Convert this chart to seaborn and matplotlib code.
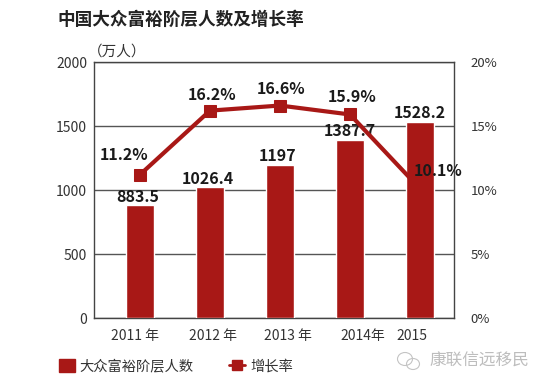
import matplotlib
matplotlib.use('Agg')
import matplotlib.pyplot as plt
from matplotlib.lines import Line2D
from matplotlib.patches import Ellipse, Patch
from matplotlib.transforms import ScaledTranslation
import pandas as pd
import seaborn as sns

years = ['2011 年', '2012 年', '2013 年', '2014年', '2015']
people = [883.5, 1026.4, 1197, 1387.7, 1528.2]
growth = [11.2, 16.2, 16.6, 15.9, 10.1]
people_labels = ['883.5', '1026.4', '1197', '1387.7', '1528.2']
growth_labels = ['11.2%', '16.2%', '16.6%', '15.9%', '10.1%']
left_ticks = [0, 500, 1000, 1500, 2000]
right_ticks = [0, 5, 10, 15, 20]

RED = '#a81816'
W, H = 551, 383

sns.set_theme(style='white')
plt.rcParams['font.family'] = ['Noto Sans CJK SC', 'DejaVu Sans']

df = pd.DataFrame({'year': years, 'people': people, 'growth': growth})

fig = plt.figure(figsize=(W / 100, H / 100), dpi=100, facecolor='white')
ax = fig.add_axes([94 / W, 1 - 318 / H, 360 / W, 256 / H])

sns.barplot(data=df, x='year', y='people', color=RED, saturation=1, width=0.39, ax=ax, zorder=3)
ax.set_xlim(-0.657, 4.486)
ax.set_ylim(0, 2000)
ax.set_yticks(left_ticks)
ax.set_xlabel('')
ax.set_ylabel('')
ax.yaxis.grid(True, color='#555555', lw=1)
ax.set_axisbelow(True)
ax.tick_params(axis='both', length=0, labelsize=10, labelcolor='#333333')
ax.tick_params(axis='x', pad=8)
ax.tick_params(axis='y', pad=5)
for s in ax.spines.values():
    s.set_color('#444444')
    s.set_linewidth(1)

# year labels sit a little right of the bars
label_shift = [-5, 3, 8, 13, -8]
for lab, dx in zip(ax.get_xticklabels(), label_shift):
    lab.set_transform(lab.get_transform() + ScaledTranslation(dx / 100, 0, fig.dpi_scale_trans))

ax2 = ax.twinx()
sns.lineplot(data=df, x='year', y='growth', color=RED, lw=3, marker='s', markersize=9,
             markeredgecolor=RED, errorbar=None, ax=ax2, zorder=4)
ax2.set_ylim(0, 20)
ax2.set_yticks(right_ticks)
ax2.set_yticklabels([f'{t}%' for t in right_ticks])
ax2.set_ylabel('')
ax2.tick_params(axis='y', length=0, labelsize=9.5, labelcolor='#333333', pad=12)
ax2.grid(False)
for s in ax2.spines.values():
    s.set_visible(False)

# value labels, offsets in pixels from the mark
bar_off = [(-2, 8), (-2, 8), (-2, 9), (0, 9), (0, 9)]
line_off = [(-16, 20), (2, 16), (1, 17), (2, 17), (18, 18)]
for i in range(5):
    ax.annotate(people_labels[i], (i, people[i]), xytext=(bar_off[i][0] * .72, bar_off[i][1] * .72),
                textcoords='offset points', ha='center', va='center', fontsize=11.5,
                fontweight='bold', color='#1a1a1a', zorder=6, annotation_clip=False)
    ax2.annotate(growth_labels[i], (i, growth[i]), xytext=(line_off[i][0] * .72, line_off[i][1] * .72),
                 textcoords='offset points', ha='center', va='center', fontsize=11.5,
                 fontweight='bold', color='#1a1a1a', zorder=6, annotation_clip=False)

fig.text(57 / W, 1 - 20 / H, '中国大众富裕阶层人数及增长率', fontsize=12.7, fontweight='bold',
         color='#222222', va='center')
fig.text(88 / W, 1 - 52 / H, '（万人）', fontsize=10.5, color='#333333', va='center', ha='left')

handles = [Patch(color=RED), Line2D([], [], color=RED, lw=2, marker='s', markersize=7)]
leg = fig.legend(handles, ['大众富裕阶层人数', '增长率'], loc='center left', ncol=2, frameon=False,
                 bbox_to_anchor=(46 / W, 1 - 366 / H), fontsize=10.3, handlelength=1.1, handleheight=1.1,
                 handletextpad=0.35, columnspacing=2.5, labelcolor='#333333')

# watermark
fig.text(429 / W, 1 - 361 / H, '康联信远移民', fontsize=12, color='#bdbdbd', va='center')
for cx, cy, ew, eh in [(405, 359, 15, 13), (413, 364, 13, 11)]:
    fig.add_artist(Ellipse((cx / W, 1 - cy / H), ew / W, eh / H, fill=False, ec='#c4c4c4', lw=0.8,
                           transform=fig.transFigure))

fig.savefig('out.png', dpi=100)
